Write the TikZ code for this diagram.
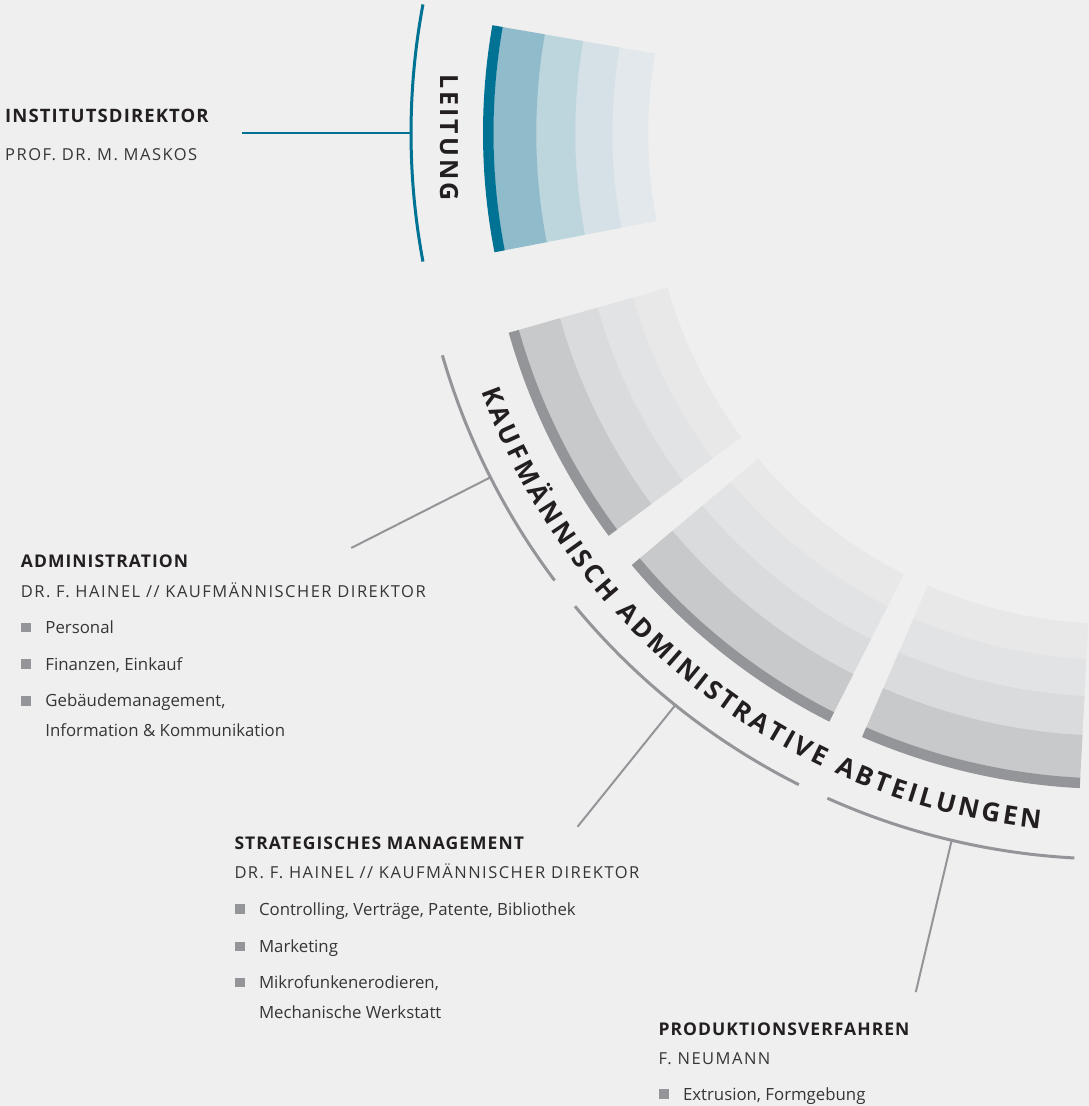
\documentclass[tikz,border=0pt]{standalone}
\usepackage{fontspec}
\usepackage{xcolor}
\setmainfont{Open Sans}
\newfontfamily\headfont{Open Sans}[LetterSpace=6]
\newfontfamily\namefont{Open Sans}[LetterSpace=9]
\newfontfamily\spinefont{Open Sans}[LetterSpace=12]
\usetikzlibrary{positioning, decorations.text}

\definecolor{paper}{HTML}{EFEFEF}
\definecolor{ink}{HTML}{231F20}
\definecolor{body}{HTML}{363636}
\definecolor{petrol}{HTML}{007294}
\definecolor{petrolA}{HTML}{8FBBCA}
\definecolor{petrolB}{HTML}{BDD5DD}
\definecolor{petrolC}{HTML}{D5E1E6}
\definecolor{petrolD}{HTML}{E2E8EB}
\definecolor{steel}{HTML}{939598}
\definecolor{steelA}{HTML}{C8C9CB}
\definecolor{steelB}{HTML}{DADBDC}
\definecolor{steelC}{HTML}{E2E3E4}
\definecolor{steelD}{HTML}{E8E8E9}

\newcommand{\blt}{\makebox[24.5pt][l]{\textcolor{steel}{\rule[1.2pt]{10pt}{9.5pt}}}}

\begin{document}
\begin{tikzpicture}[
x=1pt, y=1pt,
rim/.style={line width=10.5pt},
bandA/.style={line width=43pt},
bandB/.style={line width=39.5pt},
bandC/.style={line width=37.5pt},
bandD/.style={line width=36.5pt},
spine/.style={line width=3pt},
link/.style={line width=2pt, draw=steel},
leadlink/.style={line width=2.5pt, draw=petrol},
head/.style={anchor=base west, inner sep=0pt, text=ink, font=\headfont\bfseries\fontsize{17.5pt}{20pt}\selectfont},
person/.style={anchor=base west, inner sep=0pt, text=body, font=\namefont\fontsize{16.5pt}{20pt}\selectfont},
entry/.style={anchor=base west, inner sep=0pt, text=body, font=\fontsize{16.8pt}{20pt}\selectfont}
]

\useasboundingbox (0,0) rectangle (1089,-1106);
\fill[paper] (0,0) rectangle (1089,-1106);

\coordinate (leadhub) at (1110,-133);
\coordinate (depthub) at (1112,-162);

% Leitung
\begin{scope}[shift={(leadhub)}]
\draw[bandD, petrolD] (170.1:480pt) arc[start angle=170.1, end angle=190.97, radius=480pt];
\draw[bandC, petrolC] (170.1:516.5pt) arc[start angle=170.1, end angle=190.97, radius=516.5pt];
\draw[bandB, petrolB] (170.1:554.5pt) arc[start angle=170.1, end angle=190.97, radius=554.5pt];
\draw[bandA, petrolA] (170.1:595.25pt) arc[start angle=170.1, end angle=190.97, radius=595.25pt];
\draw[rim, petrol] (170.1:621.75pt) arc[start angle=170.1, end angle=190.97, radius=621.75pt];

\draw[spine, petrol] (169.4:699pt) arc[start angle=169.4, end angle=190.6, radius=699pt];
\node[text=ink, rotate=-90, font=\spinefont\bfseries\fontsize{25pt}{25pt}\selectfont] (leadlabel) at (180.4:661pt) {LEITUNG};

\coordinate (leadtip) at (180:699pt);
\coordinate (leadend) at (180:868pt);
\end{scope}

% Abteilungen
\begin{scope}[shift={(depthub)}]
\draw[bandD, steelD] (195.8:480pt) arc[start angle=195.8, end angle=216.6, radius=480pt];
\draw[bandC, steelC] (195.8:516.5pt) arc[start angle=195.8, end angle=216.6, radius=516.5pt];
\draw[bandB, steelB] (195.8:554.5pt) arc[start angle=195.8, end angle=216.6, radius=554.5pt];
\draw[bandA, steelA] (195.8:595.25pt) arc[start angle=195.8, end angle=216.6, radius=595.25pt];
\draw[rim, steel] (195.8:621.75pt) arc[start angle=195.8, end angle=216.6, radius=621.75pt];

\draw[bandD, steelD] (220:480pt) arc[start angle=220, end angle=243.2, radius=480pt];
\draw[bandC, steelC] (220:516.5pt) arc[start angle=220, end angle=243.2, radius=516.5pt];
\draw[bandB, steelB] (220:554.5pt) arc[start angle=220, end angle=243.2, radius=554.5pt];
\draw[bandA, steelA] (220:595.25pt) arc[start angle=220, end angle=243.2, radius=595.25pt];
\draw[rim, steel] (220:621.75pt) arc[start angle=220, end angle=243.2, radius=621.75pt];

\draw[bandD, steelD] (246.5:480pt) arc[start angle=246.5, end angle=267.05, radius=480pt];
\draw[bandC, steelC] (246.5:516.5pt) arc[start angle=246.5, end angle=267.05, radius=516.5pt];
\draw[bandB, steelB] (246.5:554.5pt) arc[start angle=246.5, end angle=267.05, radius=554.5pt];
\draw[bandA, steelA] (246.5:595.25pt) arc[start angle=246.5, end angle=267.05, radius=595.25pt];
\draw[rim, steel] (246.5:621.75pt) arc[start angle=246.5, end angle=267.05, radius=621.75pt];

\draw[spine, steel] (196.1:697pt) arc[start angle=196.1, end angle=216.9, radius=697pt];
\draw[spine, steel] (219.6:697pt) arc[start angle=219.6, end angle=243.3, radius=697pt];
\draw[spine, steel] (245.9:697pt) arc[start angle=245.9, end angle=266.9, radius=697pt];

\path[decorate, decoration={text along path, text align={fit to path}, text color=ink,
  text={|\bfseries\fontsize{26pt}{26pt}\selectfont|KAUFMÄNNISCH ADMINISTRATIVE ABTEILUNGEN}}]
  (200:671pt) arc[start angle=200, end angle=263.8, radius=671pt];

\coordinate (admintip) at (206.9:697pt);
\coordinate (adminend) at (206.9:853pt);
\coordinate (strattip) at (231.2:697pt);
\coordinate (stratend) at (231.2:853pt);
\coordinate (prodtip) at (256.7:697pt);
\coordinate (prodend) at (256.7:853pt);
\end{scope}

% Verbindungen
\draw[leadlink] (leadtip) -- (leadend);
\draw[link] (admintip) -- (adminend);
\draw[link] (strattip) -- (stratend);
\draw[link] (prodtip) -- (prodend);

% Institutsdirektor
\node[head, font=\headfont\bfseries\fontsize{18.5pt}{20pt}\selectfont] (leadhead) at (5,-122.3) {INSTITUTSDIREKTOR};
\node[person, below=37.7pt of leadhead.base west, anchor=base west] (leadname) {PROF. DR. M. MASKOS};

% Administration
\node[head] (adminhead) at (20.7,-567.3) {ADMINISTRATION};
\node[person, below=30pt of adminhead.base west, anchor=base west] (adminname) {DR. F. HAINEL // KAUFMÄNNISCHER DIREKTOR};
\node[entry, below=36pt of adminname.base west, anchor=base west] (adminpers) {\blt Personal};
\node[entry, below=36.7pt of adminpers.base west, anchor=base west] (adminfin) {\blt Finanzen, Einkauf};
\node[entry, below=36.7pt of adminfin.base west, anchor=base west] (adminhaus) {\blt Gebäudemanagement,};
\node[entry, below=30pt of adminhaus.base west, anchor=base west, xshift=24.5pt] (adminkom) {Information \& Kommunikation};

% Strategisches Management
\node[head] (strathead) at (234.3,-849.3) {STRATEGISCHES MANAGEMENT};
\node[person, below=29pt of strathead.base west, anchor=base west] (stratname) {DR. F. HAINEL // KAUFMÄNNISCHER DIREKTOR};
\node[entry, below=36.7pt of stratname.base west, anchor=base west] (stratctrl) {\blt Controlling, Verträge, Patente, Bibliothek};
\node[entry, below=37.3pt of stratctrl.base west, anchor=base west] (stratmark) {\blt Marketing};
\node[entry, below=36pt of stratmark.base west, anchor=base west] (stratmikro) {\blt Mikrofunkenerodieren,};
\node[entry, below=30pt of stratmikro.base west, anchor=base west, xshift=24.5pt] (stratwerk) {Mechanische Werkstatt};

% Produktionsverfahren
\node[head] (prodhead) at (658.3,-1035.7) {PRODUKTIONSVERFAHREN};
\node[person, below=28.6pt of prodhead.base west, anchor=base west] (prodname) {F. NEUMANN};
\node[entry, below=35.7pt of prodname.base west, anchor=base west] (prodextr) {\blt Extrusion, Formgebung};

\end{tikzpicture}
\end{document}
